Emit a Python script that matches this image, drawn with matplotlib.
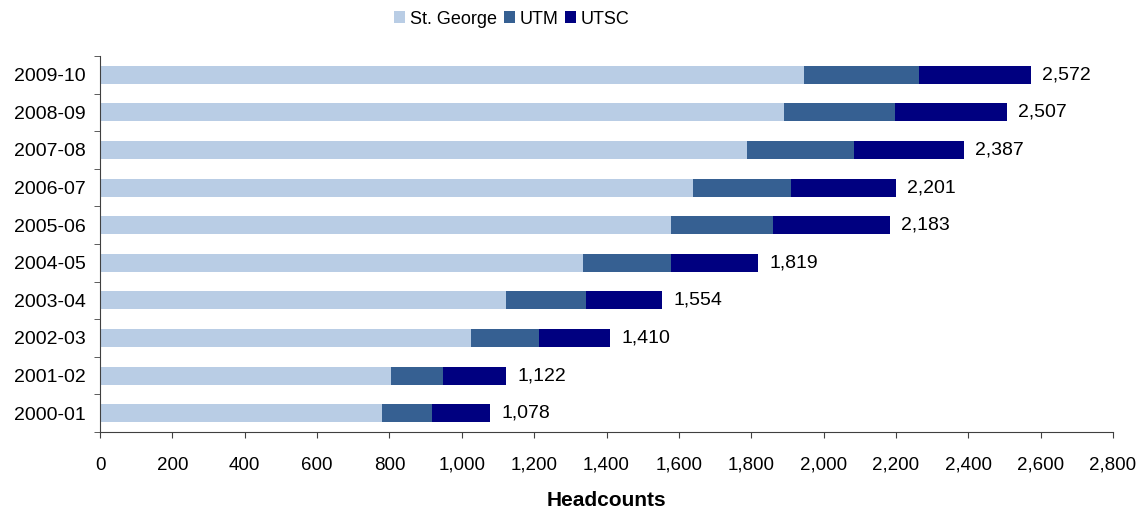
import numpy as np
import matplotlib
matplotlib.use("Agg")
from matplotlib import pyplot as plt

plt.rcParams['font.family'] = ['Liberation Sans', 'DejaVu Sans']

# datos (lectura aproximada del grafico)
years = ['2000-01', '2001-02', '2002-03', '2003-04', '2004-05',
         '2005-06', '2006-07', '2007-08', '2008-09', '2009-10']
st_george = [779, 804, 1025, 1122, 1335, 1578, 1639, 1788, 1891, 1946]
utm = [139, 144, 188, 221, 243, 282, 271, 296, 306, 318]
utsc = [160, 174, 197, 211, 241, 323, 291, 303, 310, 308]
totals = [1078, 1122, 1410, 1554, 1819, 2183, 2201, 2387, 2507, 2572]

c_sg = '#B9CDE5'
c_utm = '#366092'
c_utsc = '#000080'

fig = plt.figure(figsize=(11.44, 5.12), dpi=100)
ax = fig.add_axes([100/1144, 1-432/512, (1113-100)/1144, (432-56)/512])

y = np.arange(len(years))
sg = np.array(st_george)
um = np.array(utm)
sc = np.array(utsc)
h = 0.48
ax.barh(y, sg, height=h, color=c_sg, label='St. George')
ax.barh(y, um, left=sg, height=h, color=c_utm, label='UTM')
ax.barh(y, sc, left=sg+um, height=h, color=c_utsc, label='UTSC')

# etiquetas de total
for i in range(len(years)):
    ax.annotate(f'{totals[i]:,}', (sg[i]+um[i]+sc[i], y[i]), xytext=(8, 0),
                textcoords='offset points', va='center', ha='left', fontsize=14)

ax.set_xlim(0, 2800)
ax.set_ylim(-0.5, len(years)-0.5)
ax.set_xticks(np.arange(0, 2801, 200))
ax.set_xticklabels([f'{v:,}' for v in range(0, 2801, 200)], fontsize=13.5)
ax.set_yticks(y)
ax.set_yticklabels(years, fontsize=14)
ax.set_yticks(np.arange(-0.5, len(years), 1), minor=True)
ax.tick_params(axis='y', which='major', length=0, pad=10)
ax.tick_params(axis='y', which='minor', length=4, direction='out', color='#404040')
ax.tick_params(axis='x', length=4, direction='out', color='#404040', pad=14)
for s in ['top', 'right']:
    ax.spines[s].set_visible(False)
for s in ['left', 'bottom']:
    ax.spines[s].set_color('#404040')
ax.set_xlabel('Headcounts', fontsize=15, fontweight='bold', labelpad=12)

leg = fig.legend(loc='center left', bbox_to_anchor=(378/1144, 1-19/512), ncol=3,
                 frameon=False, fontsize=13, handlelength=0.6, handleheight=0.6,
                 handletextpad=0.25, columnspacing=0.4)

fig.savefig('out.png', dpi=100)
